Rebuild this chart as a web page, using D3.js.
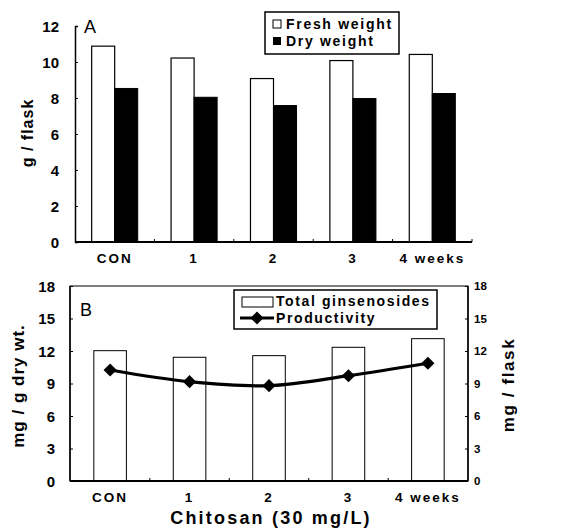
<!DOCTYPE html>
<html><head><meta charset="utf-8">
<script src="https://cdn.jsdelivr.net/npm/d3@7"></script>
<style>
body{margin:0;background:#fff;}
text{font-family:"Liberation Sans",Arial,sans-serif;fill:#000;}
</style></head>
<body><svg id="c" width="574" height="528"></svg>
<script>
const categories = ["CON","1","2","3","4 weeks"];
const freshWeight = [10.88, 10.22, 9.08, 10.08, 10.42];
const dryWeight = [8.53, 8.04, 7.58, 7.97, 8.25];
const ticksA = [0,2,4,6,8,10,12];
const totalGinsenosides = [12.03, 11.42, 11.57, 12.34, 13.14];
const productivity = [10.25, 9.17, 8.80, 9.72, 10.87];
const ticksB = [0,3,6,9,12,15,18];

const svg = d3.select("#c");

// ---------- Panel A ----------
const A = {l:75, r:472, t:26, b:242};
const xA = d3.scaleBand().domain(categories).range([A.l, A.r]).paddingInner(0.42).paddingOuter(0.21);
const xAs = d3.scaleBand().domain(["f","d"]).range([0, xA.bandwidth()]);
const yA = d3.scaleLinear().domain([0,12]).range([A.b, A.t]);
const gA = svg.append("g");

gA.selectAll(".fw").data(categories).join("rect")
  .attr("x", d=>xA(d)+xAs("f")).attr("width", xAs.bandwidth())
  .attr("y", (d,i)=>yA(freshWeight[i])).attr("height",(d,i)=>yA(0)-yA(freshWeight[i]))
  .attr("fill","#fff").attr("stroke","#000").attr("stroke-width",1.2);
gA.selectAll(".dw").data(categories).join("rect")
  .attr("x", d=>xA(d)+xAs("d")).attr("width", xAs.bandwidth())
  .attr("y", (d,i)=>yA(dryWeight[i])).attr("height",(d,i)=>yA(0)-yA(dryWeight[i]))
  .attr("fill","#000").attr("stroke","#000").attr("stroke-width",1);

// left axis
const axA = gA.append("g").attr("transform",`translate(${A.l},0)`)
  .call(d3.axisRight(yA).tickValues(ticksA).tickSize(3).tickFormat(""));
axA.select(".domain").attr("stroke-width",1.5);
gA.selectAll(".tlA").data(ticksA).join("text")
  .attr("x",59).attr("y",d=>yA(d)+5.5).attr("text-anchor","end")
  .attr("font-size",15).attr("font-weight","bold").text(d=>d);
// bottom axis
gA.append("line").attr("x1",A.l).attr("x2",A.r).attr("y1",A.b).attr("y2",A.b).attr("stroke","#000").attr("stroke-width",2);
const sepA = categories.slice(1).map(c=>xA(c)-xA.step()*xA.paddingInner()/2).concat([A.r]);
gA.selectAll(".stA").data(sepA).join("line")
  .attr("x1",d=>d).attr("x2",d=>d).attr("y1",A.b).attr("y2",A.b-3).attr("stroke","#000");
gA.selectAll(".xlA").data(categories).join("text")
  .attr("x",d=>xA(d)+xA.bandwidth()/2).attr("y",263).attr("text-anchor","middle")
  .attr("font-size",13.5).attr("font-weight","bold").attr("letter-spacing",2).text(d=>d);
gA.append("text").attr("transform","translate(33,133) rotate(-90)").attr("text-anchor","middle")
  .attr("font-size",16).attr("font-weight","bold").attr("letter-spacing",1).text("g / flask");
gA.append("text").attr("x",84).attr("y",33).attr("font-size",18).text("A");
// legend A
gA.append("rect").attr("x",265).attr("y",12).attr("width",134).attr("height",42).attr("fill","#fff").attr("stroke","#000").attr("stroke-width",1.5);
gA.append("rect").attr("x",273).attr("y",20).attr("width",8).attr("height",8).attr("fill","#fff").attr("stroke","#000");
gA.append("rect").attr("x",273).attr("y",37).attr("width",8).attr("height",8).attr("fill","#000");
gA.append("text").attr("x",286).attr("y",29).attr("font-size",14).attr("font-weight","bold").attr("letter-spacing",1.7).text("Fresh weight");
gA.append("text").attr("x",286).attr("y",46).attr("font-size",14).attr("font-weight","bold").attr("letter-spacing",1.7).text("Dry weight");

// ---------- Panel B ----------
const B = {l:70, r:468, t:286, b:481};
const xB = d3.scaleBand().domain(categories).range([B.l, B.r]).paddingInner(0.59).paddingOuter(0.3);
const yB = d3.scaleLinear().domain([0,18]).range([B.b, B.t]);
const yB2 = d3.scaleLinear().domain([0,18]).range([B.b, B.t]);
const gB = svg.append("g");

gB.selectAll(".tg").data(categories).join("rect")
  .attr("x", d=>xB(d)).attr("width", xB.bandwidth())
  .attr("y", (d,i)=>yB(totalGinsenosides[i])).attr("height",(d,i)=>yB(0)-yB(totalGinsenosides[i]))
  .attr("fill","#fff").attr("stroke","#000").attr("stroke-width",1);

gB.append("rect").attr("x",B.l).attr("y",B.t).attr("width",B.r-B.l).attr("height",B.b-B.t)
  .attr("fill","none").attr("stroke","#000").attr("stroke-width",1);
gB.append("line").attr("x1",B.l).attr("x2",B.r).attr("y1",B.b).attr("y2",B.b).attr("stroke","#000").attr("stroke-width",2);
gB.append("line").attr("x1",B.l).attr("x2",B.l).attr("y1",B.t).attr("y2",B.b).attr("stroke","#000").attr("stroke-width",1.5);
gB.append("line").attr("x1",B.r).attr("x2",B.r).attr("y1",B.t).attr("y2",B.b).attr("stroke","#000").attr("stroke-width",1.5);
gB.append("g").attr("transform",`translate(${B.l},0)`).call(d3.axisRight(yB).tickValues(ticksB).tickSize(3).tickFormat("")).select(".domain").remove();
gB.append("g").attr("transform",`translate(${B.r},0)`).call(d3.axisLeft(yB2).tickValues(ticksB).tickSize(3).tickFormat("")).select(".domain").remove();
const sepB = categories.slice(1).map(c=>xB(c)-xB.step()*xB.paddingInner()/2);
gB.selectAll(".stB").data(sepB).join("line")
  .attr("x1",d=>d).attr("x2",d=>d).attr("y1",B.b).attr("y2",B.b-3).attr("stroke","#000");

gB.selectAll(".tlB").data(ticksB).join("text")
  .attr("x",55).attr("y",d=>yB(d)+5.5).attr("text-anchor","end")
  .attr("font-size",15).attr("font-weight","bold").text(d=>d);
gB.selectAll(".tlB2").data(ticksB).join("text")
  .attr("x",474).attr("y",d=>yB2(d)+4).attr("text-anchor","start")
  .attr("font-size",11.5).attr("font-weight","bold").text(d=>d);

// line
const lineGen = d3.line().x((d,i)=>xB(categories[i])+xB.bandwidth()/2).y(d=>yB2(d)).curve(d3.curveCatmullRom.alpha(0.5));
gB.append("path").datum(productivity).attr("d",lineGen).attr("fill","none").attr("stroke","#000").attr("stroke-width",3.2);
const diamond = d3.symbol().type(d3.symbolDiamond2).size(110);
gB.selectAll(".dm").data(productivity).join("path")
  .attr("transform",(d,i)=>`translate(${xB(categories[i])+xB.bandwidth()/2},${yB2(d)})`)
  .attr("d",diamond).attr("fill","#000");

gB.selectAll(".xlB").data(categories).join("text")
  .attr("x",d=>xB(d)+xB.bandwidth()/2).attr("y",502).attr("text-anchor","middle")
  .attr("font-size",13.5).attr("font-weight","bold").attr("letter-spacing",2).text(d=>d);
gB.append("text").attr("x",271).attr("y",524).attr("text-anchor","middle")
  .attr("font-size",18).attr("font-weight","bold").attr("letter-spacing",2.2).text("Chitosan (30 mg/L)");
gB.append("text").attr("transform","translate(24,386) rotate(-90)").attr("text-anchor","middle")
  .attr("font-size",17).attr("font-weight","bold").attr("letter-spacing",1).text("mg / g dry wt.");
gB.append("text").attr("transform","translate(514,385) rotate(-90)").attr("text-anchor","middle")
  .attr("font-size",17).attr("font-weight","bold").attr("letter-spacing",1.6).text("mg / flask");
gB.append("text").attr("x",80).attr("y",316).attr("font-size",18).text("B");

// legend B
gB.append("rect").attr("x",234).attr("y",290).attr("width",203).attr("height",39).attr("fill","#fff").attr("stroke","#000").attr("stroke-width",1.5);
gB.append("rect").attr("x",242).attr("y",297).attr("width",31).attr("height",10).attr("fill","#fff").attr("stroke","#000");
gB.append("line").attr("x1",240).attr("x2",274).attr("y1",318).attr("y2",318).attr("stroke","#000").attr("stroke-width",3);
gB.append("path").attr("transform","translate(257,318)").attr("d",diamond).attr("fill","#000");
gB.append("text").attr("x",276).attr("y",306).attr("font-size",14).attr("font-weight","bold").attr("letter-spacing",1.6).text("Total ginsenosides");
gB.append("text").attr("x",276).attr("y",323).attr("font-size",14).attr("font-weight","bold").attr("letter-spacing",1.6).text("Productivity");
</script></body></html>
